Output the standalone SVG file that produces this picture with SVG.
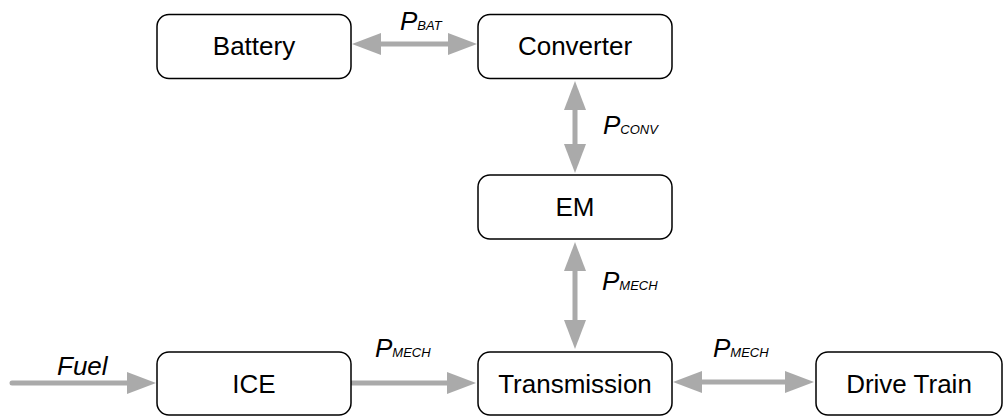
<svg xmlns="http://www.w3.org/2000/svg" width="1003" height="416" viewBox="0 0 1003 416">
  <style>
    .box { fill: #ffffff; stroke: #000000; stroke-width: 1.5; }
    .name { font-family: "Liberation Sans", Arial, sans-serif; font-size: 26px; fill: #000000; text-anchor: middle; }
    .flow { stroke: #aaaaaa; stroke-width: 5; fill: none; stroke-linecap: round; }
    .lbl { font-family: "Liberation Sans", Arial, sans-serif; font-style: italic; font-size: 26px; fill: #000000; }
    .sub { font-size: 13px; }
  </style>
  <defs>
    <!-- head drawn from its base (at the line end) outward to the tip -->
    <marker id="head" markerUnits="userSpaceOnUse" markerWidth="30" markerHeight="22" refX="0" refY="11" orient="auto-start-reverse" overflow="visible">
      <path d="M0,0 L29,11 L0,22 Z" fill="#aaaaaa"/>
    </marker>
  </defs>

  <g id="connectors">
    <line class="flow" x1="381" y1="44" x2="448" y2="44" marker-start="url(#head)" marker-end="url(#head)"/>
    <line class="flow" x1="575" y1="110" x2="575" y2="144" marker-start="url(#head)" marker-end="url(#head)"/>
    <line class="flow" x1="575" y1="271" x2="575" y2="320" marker-start="url(#head)" marker-end="url(#head)"/>
    <line class="flow" x1="12" y1="383" x2="127" y2="383" marker-end="url(#head)"/>
    <line class="flow" x1="352" y1="383" x2="447" y2="383" marker-end="url(#head)"/>
    <line class="flow" x1="702" y1="382" x2="785" y2="382" marker-start="url(#head)" marker-end="url(#head)"/>

    <text class="lbl" x="400" y="30">P<tspan class="sub">BAT</tspan></text>
    <text class="lbl" x="603" y="134">P<tspan class="sub">CONV</tspan></text>
    <text class="lbl" x="602" y="290">P<tspan class="sub">MECH</tspan></text>
    <text class="lbl" x="57" y="375" font-size="25">Fuel</text>
    <text class="lbl" x="375" y="357">P<tspan class="sub">MECH</tspan></text>
    <text class="lbl" x="713" y="357">P<tspan class="sub">MECH</tspan></text>
  </g>

  <g id="battery">
    <rect class="box" x="157" y="14.5" width="194" height="64" rx="12"/>
    <text class="name" x="254" y="55">Battery</text>
  </g>
  <g id="converter">
    <rect class="box" x="478" y="14.5" width="194" height="64" rx="12"/>
    <text class="name" x="575" y="55">Converter</text>
  </g>
  <g id="em">
    <rect class="box" x="478" y="175" width="194" height="64" rx="12"/>
    <text class="name" x="575" y="216">EM</text>
  </g>
  <g id="ice">
    <rect class="box" x="157" y="352" width="194" height="63" rx="12"/>
    <text class="name" x="254" y="393">ICE</text>
  </g>
  <g id="transmission">
    <rect class="box" x="478" y="352" width="194" height="63" rx="12"/>
    <text class="name" x="575" y="393">Transmission</text>
  </g>
  <g id="drive-train">
    <rect class="box" x="816" y="352" width="186" height="63" rx="12"/>
    <text class="name" x="909" y="393">Drive Train</text>
  </g>
</svg>
